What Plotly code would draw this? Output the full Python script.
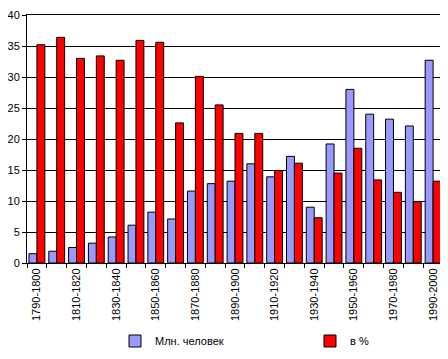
import plotly.graph_objects as go

categories = ["1790-1800", "1800-1810", "1810-1820", "1820-1830", "1830-1840", "1840-1850",
              "1850-1860", "1860-1870", "1870-1880", "1880-1890", "1890-1900", "1900-1910",
              "1910-1920", "1920-1930", "1930-1940", "1940-1950", "1950-1960", "1960-1970",
              "1970-1980", "1980-1990", "1990-2000"]
mln_people = [1.5, 1.9, 2.5, 3.2, 4.2, 6.1, 8.2, 7.1, 11.6, 12.8, 13.2, 16.0, 13.9, 17.2,
              9.0, 19.2, 28.0, 24.0, 23.2, 22.1, 32.7]
percent = [35.2, 36.4, 33.0, 33.4, 32.7, 35.9, 35.6, 22.6, 30.1, 25.5, 20.9, 20.9, 14.9,
           16.1, 7.3, 14.5, 18.5, 13.4, 11.4, 9.9, 13.2]
tick_text = [c if i % 2 == 0 else "" for i, c in enumerate(categories)]

font = dict(family="Liberation Sans, Arial, sans-serif", size=11, color="black")

# the page body has an 8px margin; offset the layout so the chart lands in place
OFF = 8
W, H = 448, 359

fig = go.Figure()
fig.add_trace(go.Bar(x=categories, y=mln_people, name="Млн. человек", legend="legend",
                     marker=dict(color="#9999FF", line=dict(color="black", width=1))))
fig.add_trace(go.Bar(x=categories, y=percent, name="в %", legend="legend2",
                     marker=dict(color="#FF0000", line=dict(color="black", width=1))))

fig.update_layout(
    width=W, height=H,
    margin=dict(l=27 - OFF, r=W - 443 + OFF, t=15 - OFF, b=H - 263 + OFF, autoexpand=False),
    paper_bgcolor="white", plot_bgcolor="white",
    font=font,
    barmode="group", bargap=0.2, bargroupgap=0,
    showlegend=True,
    legend=dict(xref="container", yref="container", x=(115 - OFF) / W, y=1 - (341 - OFF) / H,
                xanchor="left", yanchor="middle", itemwidth=30, font=font,
                bgcolor="rgba(0,0,0,0)", borderwidth=0),
    legend2=dict(xref="container", yref="container", x=(310 - OFF) / W, y=1 - (341 - OFF) / H,
                 xanchor="left", yanchor="middle", itemwidth=30, font=font,
                 bgcolor="rgba(0,0,0,0)", borderwidth=0),
)
fig.update_xaxes(type="category", tickvals=categories, ticktext=tick_text,
                 range=[-0.5, len(categories) - 0.5], automargin=False,
                 tickson="boundaries", ticks="outside", ticklen=4, tickcolor="black",
                 tickangle=-90, showline=True, linecolor="black", linewidth=1,
                 mirror=True, showgrid=False, tickfont=font)
fig.update_yaxes(range=[0, 40], dtick=5, ticks="outside", ticklen=4, tickcolor="black",
                 showline=True, linecolor="black", linewidth=1, mirror=True, automargin=False,
                 showgrid=True, gridcolor="black", gridwidth=1, tickfont=font,
                 zeroline=False)

fig.write_html("out.html")
